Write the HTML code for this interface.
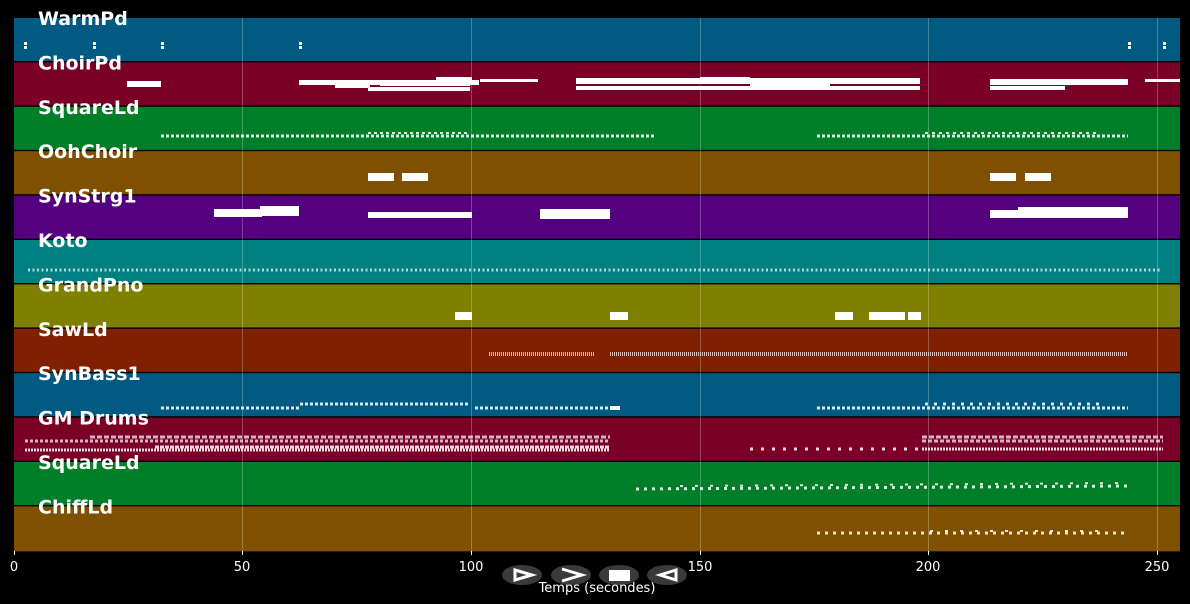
<!DOCTYPE html>
<html><head><meta charset="utf-8"><style>
html,body{margin:0;padding:0;background:#000;width:1190px;height:604px;overflow:hidden}
svg text{font-family:"DejaVu Sans","Liberation Sans",sans-serif}
</style></head><body>
<svg width="1190" height="604" xmlns="http://www.w3.org/2000/svg">
<rect width="1190" height="604" fill="#000"/>
<g>
<rect x="14" y="18" width="1166" height="43" fill="#005a82"/>
<rect x="14" y="62.4" width="1166" height="43" fill="#7a0028"/>
<rect x="14" y="106.8" width="1166" height="43" fill="#007f28"/>
<rect x="14" y="151.2" width="1166" height="43" fill="#7f5000"/>
<rect x="14" y="195.6" width="1166" height="43" fill="#55007f"/>
<rect x="14" y="240" width="1166" height="43" fill="#008080"/>
<rect x="14" y="284.4" width="1166" height="43" fill="#7f7f00"/>
<rect x="14" y="328.8" width="1166" height="43" fill="#7f2000"/>
<rect x="14" y="373.2" width="1166" height="43" fill="#005a82"/>
<rect x="14" y="417.6" width="1166" height="43" fill="#7a0028"/>
<rect x="14" y="462" width="1166" height="43" fill="#007f28"/>
<rect x="14" y="506.4" width="1166" height="45" fill="#7f5000"/>
</g>
<g stroke="#ffffff" stroke-opacity="0.25" stroke-width="1">
<line x1="242.5" y1="18" x2="242.5" y2="551"/><line x1="471.5" y1="18" x2="471.5" y2="551"/>
<line x1="700.5" y1="18" x2="700.5" y2="551"/><line x1="928.5" y1="18" x2="928.5" y2="551"/>
<line x1="1157.5" y1="18" x2="1157.5" y2="551"/>
</g>
<g fill="#fff">
<!-- WarmPd -->
<rect x="24" y="42" width="3" height="3"/><rect x="24" y="46" width="3" height="3"/>
<rect x="93" y="42" width="3" height="3"/><rect x="93" y="46" width="3" height="3"/>
<rect x="161" y="42" width="3" height="3"/><rect x="161" y="46" width="3" height="3"/>
<rect x="299" y="42" width="3" height="3"/><rect x="299" y="46" width="3" height="3"/>
<rect x="1128" y="42" width="3" height="3"/><rect x="1128" y="46" width="3" height="3"/>
<rect x="1163" y="42" width="3" height="3"/><rect x="1163" y="46" width="3" height="3"/>
<!-- ChoirPd -->
<rect x="127" y="81" width="34" height="6"/>
<rect x="299" y="80" width="180" height="5"/><rect x="335" y="85" width="35" height="3"/><rect x="368" y="87" width="102" height="4"/><rect x="380" y="81" width="90" height="5"/><rect x="436" y="77" width="36" height="4"/><rect x="480" y="79" width="58" height="3"/>
<rect x="576" y="78" width="344" height="6"/><rect x="576" y="86" width="344" height="4"/><rect x="750" y="82" width="80" height="7"/><rect x="700" y="77" width="50" height="4"/>
<rect x="990" y="79" width="138" height="6"/><rect x="990" y="86" width="75" height="4"/><rect x="1145" y="79" width="35" height="3"/>
<!-- OohChoir -->
<rect x="368" y="173" width="26" height="8"/><rect x="402" y="173" width="26" height="8"/>
<rect x="990" y="173" width="26" height="8"/><rect x="1025" y="173" width="26" height="8"/>
<!-- SynStrg1 -->
<rect x="214" y="209" width="48" height="8"/><rect x="260" y="206" width="39" height="10"/>
<rect x="368" y="212" width="104" height="6"/>
<rect x="540" y="209" width="70" height="10"/>
<rect x="990" y="210" width="48" height="8"/><rect x="1018" y="207" width="110" height="11"/>
<!-- GrandPno -->
<rect x="455" y="312" width="17" height="8"/><rect x="610" y="312" width="18" height="8"/><rect x="835" y="312" width="18" height="8"/><rect x="869" y="312" width="36" height="8"/><rect x="908" y="312" width="13" height="8"/>
<!-- SynBass1 -->
<rect x="610" y="406" width="10" height="4"/>
</g>
<g stroke="#fff" fill="none" stroke-opacity="0.85">
<line x1="161" y1="136" x2="655" y2="136" stroke-width="3" stroke-dasharray="3,2"/>
<line x1="368" y1="133" x2="470" y2="133" stroke-width="2" stroke-dasharray="3,3"/>
<line x1="817" y1="136" x2="1128" y2="136" stroke-width="3" stroke-dasharray="3,2"/>
<line x1="925" y1="133" x2="1100" y2="133" stroke-width="2" stroke-dasharray="3,4"/>
<line x1="28" y1="270" x2="1160" y2="270" stroke-width="3" stroke-dasharray="2,2.5" stroke-opacity="0.7"/>
<line x1="489" y1="354" x2="594" y2="354" stroke-width="4" stroke-dasharray="1,1" stroke-opacity="0.7"/>
<line x1="610" y1="354" x2="1128" y2="354" stroke-width="4" stroke-dasharray="1,1" stroke-opacity="0.7"/>
<line x1="161" y1="408" x2="300" y2="408" stroke-width="3" stroke-dasharray="3,2"/>
<line x1="300" y1="404" x2="470" y2="404" stroke-width="3" stroke-dasharray="3,2"/>
<line x1="475" y1="408" x2="610" y2="408" stroke-width="3" stroke-dasharray="3,2"/>
<line x1="817" y1="408" x2="1128" y2="408" stroke-width="3" stroke-dasharray="3,2"/>
<line x1="925" y1="404" x2="1100" y2="404" stroke-width="3" stroke-dasharray="3,6"/>
<line x1="25" y1="441" x2="610" y2="441" stroke-width="3" stroke-dasharray="3,2" stroke-opacity="0.7"/>
<line x1="90" y1="437" x2="610" y2="437" stroke-width="3" stroke-dasharray="5,2" stroke-opacity="0.7"/>
<line x1="25" y1="450" x2="610" y2="450" stroke-width="3" stroke-dasharray="2,1"/>
<line x1="155" y1="447" x2="610" y2="447" stroke-width="3" stroke-dasharray="4,1"/>
<line x1="750" y1="449" x2="920" y2="449" stroke-width="3" stroke-dasharray="3,8"/>
<line x1="922" y1="441" x2="1163" y2="441" stroke-width="3" stroke-dasharray="4,2" stroke-opacity="0.7"/>
<line x1="922" y1="437" x2="1163" y2="437" stroke-width="3" stroke-dasharray="5,2" stroke-opacity="0.7"/>
<line x1="922" y1="449" x2="1163" y2="449" stroke-width="3" stroke-dasharray="2,1"/>
<line x1="636" y1="489" x2="1128" y2="486" stroke-width="3" stroke-dasharray="3,5"/>
<line x1="680" y1="486" x2="1128" y2="483" stroke-width="2" stroke-dasharray="3,12"/>
<line x1="817" y1="533" x2="1128" y2="533" stroke-width="3" stroke-dasharray="3,5"/>
<line x1="930" y1="531" x2="1100" y2="531" stroke-width="2" stroke-dasharray="3,12"/>
</g>
<g fill="#fff" font-weight="bold" font-size="19">
<text x="38" y="25">WarmPd</text><text x="38" y="69.4">ChoirPd</text><text x="38" y="113.8">SquareLd</text>
<text x="38" y="158.2">OohChoir</text><text x="38" y="202.6">SynStrg1</text><text x="38" y="247">Koto</text>
<text x="38" y="291.4">GrandPno</text><text x="38" y="335.8">SawLd</text><text x="38" y="380.2">SynBass1</text>
<text x="38" y="424.6">GM Drums</text><text x="38" y="469">SquareLd</text><text x="38" y="513.4">ChiffLd</text>
</g>
<g stroke="#fff" stroke-width="1"><line x1="14.5" y1="551" x2="14.5" y2="555"/><line x1="242.5" y1="551" x2="242.5" y2="555"/><line x1="471.5" y1="551" x2="471.5" y2="555"/><line x1="700.5" y1="551" x2="700.5" y2="555"/><line x1="928.5" y1="551" x2="928.5" y2="555"/><line x1="1157.5" y1="551" x2="1157.5" y2="555"/></g>
<g fill="#fff" font-size="13" text-anchor="middle">
<text x="14" y="571">0</text><text x="242" y="571">50</text><text x="471" y="571">100</text><text x="700" y="571">150</text><text x="928" y="571">200</text><text x="1157" y="571">250</text>
</g>
<g fill="#444" fill-opacity="0.85">
<ellipse cx="522" cy="575" rx="20" ry="10"/><ellipse cx="571" cy="575" rx="20" ry="10"/><ellipse cx="619" cy="575" rx="20" ry="10"/><ellipse cx="667" cy="575" rx="20" ry="10"/>
</g>
<g stroke="#fff" stroke-width="3" fill="none">
<path d="M515 570 L532 575 L515 580 Z"/><path d="M562 569 L582 575 L562 581"/><path d="M676 570 L660 575 L676 580 Z"/>
</g>
<rect x="609" y="570" width="21" height="11" fill="#fff"/>
<text x="597" y="592" fill="#fff" font-size="13" text-anchor="middle">Temps (secondes)</text>
</svg>
</body></html>
